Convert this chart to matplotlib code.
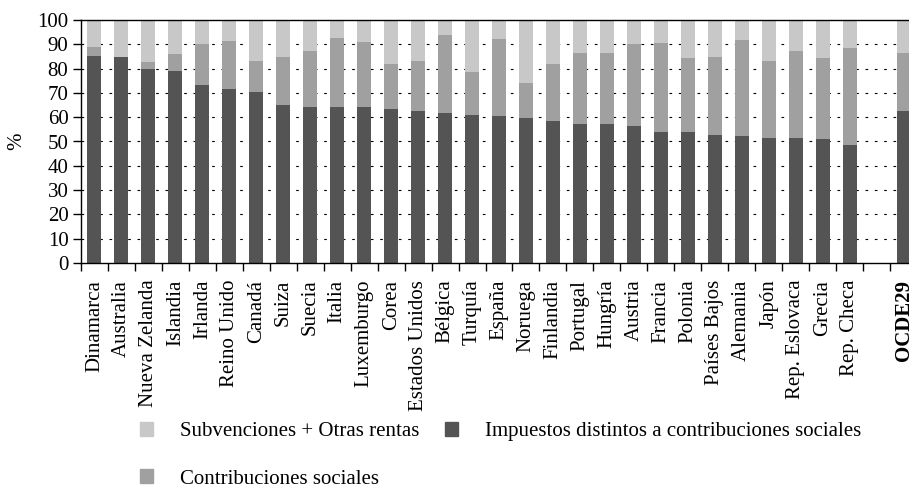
# Composición de los ingresos públicos por país (%)

import numpy as np
import matplotlib
matplotlib.use('Agg')
import matplotlib.pyplot as plt
from matplotlib.patches import Patch

plt.rcParams['font.family'] = ['Liberation Serif', 'DejaVu Serif']

paises = ['Dinamarca', 'Australia', 'Nueva Zelanda', 'Islandia', 'Irlanda',
          'Reino Unido', 'Canadá', 'Suiza', 'Suecia', 'Italia', 'Luxemburgo',
          'Corea', 'Estados Unidos', 'Bélgica', 'Turquía', 'España', 'Noruega',
          'Finlandia', 'Portugal', 'Hungría', 'Austria', 'Francia', 'Polonia',
          'Países Bajos', 'Alemania', 'Japón', 'Rep. Eslovaca', 'Grecia',
          'Rep. Checa', 'OCDE29']

impuestos = [85.3, 84.9, 79.9, 79.0, 73.3, 71.6, 70.4, 65.1, 64.2, 64.2,
             64.2, 63.4, 62.6, 61.8, 61.0, 60.5, 59.7, 58.4, 57.2, 57.2,
             56.4, 53.9, 53.9, 52.7, 52.3, 51.5, 51.5, 51.1, 48.6, 62.6]

contribuciones = [3.7, 0.0, 3.0, 7.2, 17.0, 19.9, 12.9, 19.8, 23.2, 28.4,
                  26.8, 18.5, 20.5, 32.0, 17.6, 31.7, 14.4, 23.5, 29.2, 29.2,
                  33.7, 36.8, 30.5, 32.1, 39.5, 31.6, 35.8, 33.3, 39.9, 23.8]

subvenciones = [11.0, 15.1, 17.1, 13.8, 9.7, 8.5, 16.7, 15.1, 12.6, 7.4,
                9.0, 18.1, 16.9, 6.2, 21.4, 7.8, 25.9, 18.1, 13.6, 13.6,
                9.9, 9.3, 15.6, 15.2, 8.2, 16.9, 12.7, 15.6, 11.5, 13.6]

c_imp = '#545454'
c_con = '#a0a0a0'
c_sub = '#c8c8c8'

# posiciones: hueco antes de OCDE29
pos = np.array(list(range(29)) + [30])
imp = np.array(impuestos)
con = np.array(contribuciones)
sub = np.array(subvenciones)

fig = plt.figure(figsize=(9.09, 4.86), dpi=100)
ax = fig.add_axes([81 / 909, 1 - 263 / 486, 836 / 909, 243 / 486])

w = 0.52
ax.bar(pos, imp, w, color=c_imp, zorder=2)
ax.bar(pos, con, w, bottom=imp, color=c_con, zorder=2)
ax.bar(pos, sub, w, bottom=imp + con, color=c_sub, zorder=2)

ax.set_xlim(-0.5, 30.5)
ax.set_ylim(0, 100)
ax.set_yticks(np.arange(0, 101, 10))
for yv in range(10, 100, 10):
    ax.axhline(yv, color='black', lw=0.8, linestyle=(0, (2.4, 6.0)), zorder=1)

ax.set_xticks(pos)
ax.set_xticklabels(paises, rotation=90, fontsize=15)
ax.get_xticklabels()[-1].set_fontweight('bold')
ax.set_xticks(np.arange(-0.5, 31, 1), minor=True)
ax.tick_params(axis='x', which='major', length=0, pad=12)
ax.tick_params(axis='x', which='minor', length=6, width=1, direction='out')
ax.tick_params(axis='y', labelsize=15, length=6, width=1, direction='out', pad=3)

for s in ax.spines.values():
    s.set_linewidth(1)

ax.set_ylabel('%', fontsize=15)
ax.yaxis.set_label_coords(-0.066, 0.5)

handles = [Patch(color=c_sub, label='Subvenciones + Otras rentas'),
           Patch(color=c_con, label='Contribuciones sociales'),
           Patch(color=c_imp, label='Impuestos distintos a contribuciones sociales')]
fig.legend(handles=handles, ncol=2, loc='upper left',
           bbox_to_anchor=(140 / 909, 1 - 422 / 486), frameon=False,
           fontsize=15, handlelength=0.62, handleheight=0.62,
           handletextpad=1.3, columnspacing=1.25, labelspacing=1.36,
           borderpad=0, borderaxespad=0)

plt.savefig('out.png', dpi=100)
